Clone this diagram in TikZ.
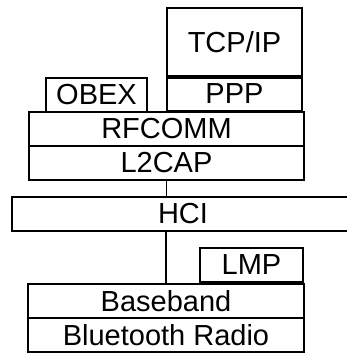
\documentclass[tikz,border=0pt]{standalone}
\usepackage{fontspec}
\setmainfont{Liberation Sans}
\usetikzlibrary{positioning}

\tikzset{
    layer/.style={draw, rectangle, line width=1.8pt, inner sep=0pt, outer sep=0pt,
        minimum height=34pt, font=\fontsize{29}{30}\selectfont}
}

\begin{document}
\begin{tikzpicture}[x=1pt, y=-1pt, line width=1.8pt]

    \clip (0,0) rectangle (347,353);

    % Nodes
    \node [layer, minimum width=135pt, minimum height=69pt] (tcpip) at (234.5,42.5) {TCP/IP};
    \node [layer, minimum width=135pt, below=0pt of tcpip] (ppp) {PPP};
    \node [layer, minimum width=101pt] (obex) at (96.5,95) {OBEX};
    \node [layer, minimum width=275pt] (rfcomm) at (166.5,129) {RFCOMM};
    \node [layer, minimum width=275pt, below=0pt of rfcomm] (l2cap) {L2CAP};
    \node [layer, minimum width=342pt] (hci) at (183,214) {HCI};
    \node [layer, minimum width=103pt] (lmp) at (251.5,265) {LMP};
    \node [layer, minimum width=276pt] (baseband) at (166,301) {Baseband};
    \node [layer, minimum width=276pt, below=0pt of baseband] (radio) {Bluetooth Radio};

    % Lines
    \draw [line width=3.5pt] (tcpip.south west) -- (tcpip.south east);
    \draw (l2cap.south) -- (l2cap.south |- hci.north);
    \draw (hci.south -| baseband.north) -- (baseband.north);

\end{tikzpicture}
\end{document}
